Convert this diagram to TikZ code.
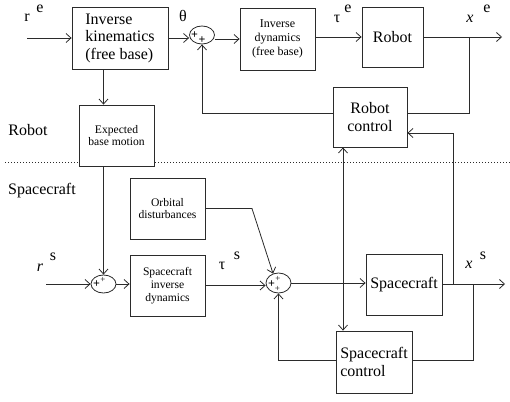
\documentclass[tikz,border=0pt]{standalone}
\usepackage{fontspec}
\setmainfont{Liberation Serif}
\usetikzlibrary{arrows.meta, shapes.geometric}
\definecolor{ink}{HTML}{2B2B2B}
\tikzset{
    block/.style={rectangle, draw=ink, fill=white, line width=0.8pt, align=center, inner sep=1pt, font=\fontsize{16}{17.5}\selectfont},
    smallblock/.style={block, font=\fontsize{11.6}{12.8}\selectfont},
    sumpoint/.style={ellipse, draw=ink, fill=white, line width=0.8pt, minimum width=25pt, minimum height=18pt, inner sep=0pt},
    arrow/.style={-{Straight Barb[length=5pt, width=9pt]}, draw=ink, line width=0.8pt},
    biarrow/.style={{Straight Barb[length=5pt, width=9pt]}-{Straight Barb[length=5pt, width=9pt]}, draw=ink, line width=0.8pt},
    wire/.style={draw=ink, line width=0.8pt},
    divider/.style={draw=ink, line width=0.7pt, dash pattern=on 0.8pt off 2.2pt},
    lbl/.style={font=\fontsize{16}{17}\selectfont, inner sep=0pt},
    sign/.style={font=\fontsize{9}{9}\selectfont, inner sep=0pt},
    bigsign/.style={font=\fontsize{12}{12}\selectfont\bfseries, inner sep=0pt}
}

\begin{document}
\begin{tikzpicture}[x=1pt, y=-1pt]
    \useasboundingbox (0,0) rectangle (510,401);
    \draw [divider] (5,162) -- (510,162);

    % robot loop
    \node [block, minimum width=96pt, minimum height=62pt, align=left] (ik) at (120,38) {Inverse\\kinematics\\(free base)};
    \node [sumpoint] (s1) at (202,35) {};
    \node [smallblock, font=\fontsize{12}{14.3}\selectfont, minimum width=75pt, minimum height=62pt] (invdyn) at (277.5,39) {Inverse\\dynamics\\(free base)};
    \node [block, minimum width=61pt, minimum height=60pt] (robot) at (392.5,37) {Robot};
    \node [block, minimum width=74pt, minimum height=60pt] (rc) at (370,117) {Robot\\control};
    \node [smallblock, minimum width=75pt, minimum height=61pt] (ebm) at (116.5,135.5) {Expected\\base motion};

    % spacecraft loop
    \node [smallblock, minimum width=75pt, minimum height=61pt] (od) at (167.5,208.5) {Orbital\\disturbances};
    \node [sumpoint] (s2) at (103.5,284) {};
    \node [smallblock, minimum width=75pt, minimum height=61pt] (sid) at (167.5,285.5) {Spacecraft\\inverse\\dynamics};
    \node [sumpoint, minimum height=20pt] (s3) at (278.5,283) {};
    \node [block, minimum width=76pt, minimum height=61pt] (sc) at (404,284.5) {Spacecraft};
    \node [block, minimum width=76pt, minimum height=62pt, align=left] (scc) at (374,362) {Spacecraft\\control};

    \node [bigsign, xshift=-7.5pt] (s1a) at (s1) {+};
    \node [bigsign, yshift=-5.5pt] (s1b) at (s1) {+};
    \node [bigsign, xshift=-7pt] (s2a) at (s2) {+};
    \node [sign, xshift=-0.5pt, yshift=4pt] (s2b) at (s2) {+};
    \node [bigsign, xshift=-7pt, yshift=-1pt] (s3a) at (s3) {+};
    \node [sign, xshift=-0.5pt, yshift=4pt] (s3b) at (s3) {+};
    \node [sign, xshift=-1pt, yshift=-6pt] (s3c) at (s3) {+};

    \node [lbl] (re) at (27,18) {r};
    \node [lbl] (resup) at (40,9) {e};
    \node [lbl] (theta) at (183,16) {θ};
    \node [lbl] (taue) at (337,19) {τ};
    \node [lbl] (tauesup) at (348,9) {e};
    \node [lbl] (xe) at (470,19) {\textit{x}};
    \node [lbl] (xesup) at (487,9) {e};
    \node [lbl] (robotlbl) at (28,130) {Robot};
    \node [lbl] (sclbl) at (42,191) {Spacecraft};
    \node [lbl] (rs) at (40,268) {\textit{r}};
    \node [lbl] (rssup) at (53,257) {s};
    \node [lbl] (taus) at (222,266) {τ};
    \node [lbl] (taussup) at (237,256) {s};
    \node [lbl] (xs) at (469,265) {\textit{x}};
    \node [lbl] (xssup) at (483,256) {s};

    \coordinate (rein) at (27,38);
    \coordinate (xeout) at (502,37);
    \coordinate (xebr) at (469,37);
    \coordinate (rsin) at (46,284);
    \coordinate (xsout) at (505,284);
    \coordinate (xsbr1) at (453,284);
    \coordinate (xsbr2) at (473,284);
    \coordinate (odbend) at (252,208.5);

    \draw [arrow] (rein) -- (ik.west);
    \draw [arrow] (ik.east) -- (ik.east -| s1.west);
    \draw [arrow] (s1.east |- invdyn.west) -- (invdyn.west);
    \draw [arrow] (invdyn.east |- robot.west) -- (robot.west);
    \draw [arrow] (robot.east) -- (xeout);
    \draw [wire] (xebr) |- ([yshift=4pt]rc.east);
    \draw [arrow] ([yshift=4pt]rc.west) -| (s1.south);
    \draw [arrow] (ik.south -| s2.north) -- (ebm.north -| s2.north);
    \draw [arrow] (ebm.south -| s2.north) -- (s2.north);

    \draw [arrow] (rsin) -- (s2.west);
    \draw [arrow] (s2.east) -- (sid.west |- s2.east);
    \draw [arrow] (sid.east) -- (sid.east -| s3.west);
    \draw [arrow] (s3.east) -- (sc.west |- s3.east);
    \draw [arrow] (sc.east |- xsout) -- (xsout);
    \draw [arrow] (od.east) -- (odbend) -- (s3.120);
    \draw [wire] (xsbr2) |- ([yshift=2pt]scc.east);
    \draw [arrow] ([yshift=2pt]scc.west) -| (s3.south);
    \draw [arrow] (xsbr1) |- ([yshift=-16pt]rc.east);
    \draw [biarrow] ([xshift=-27pt]rc.south) -- ([xshift=-27pt]rc.south |- scc.north);
\end{tikzpicture}
\end{document}
